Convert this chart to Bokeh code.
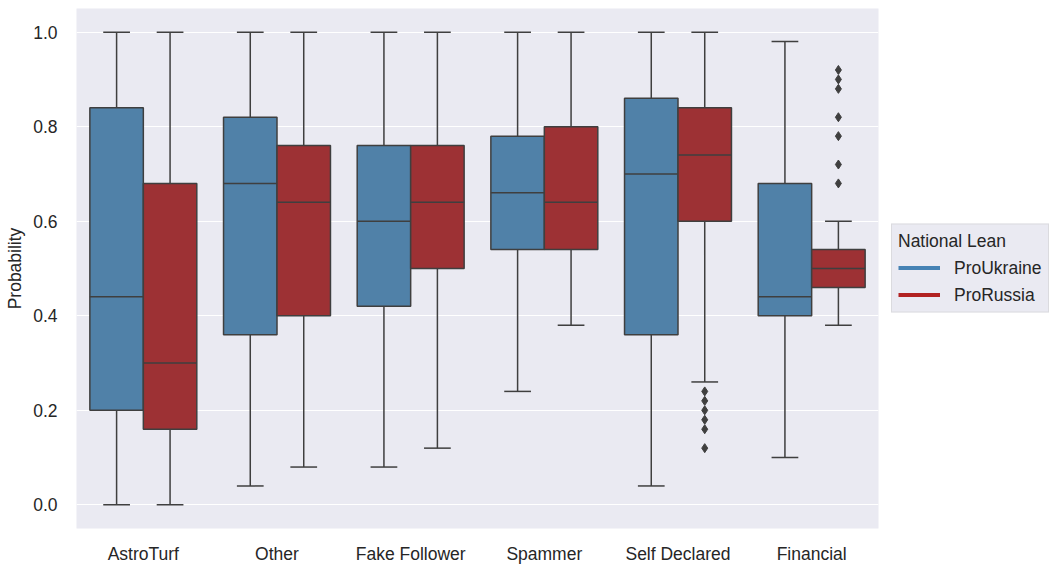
from bokeh.plotting import figure
from bokeh.models import FixedTicker, Legend, LegendItem, Range1d
from bokeh.embed import file_html
from bokeh.resources import INLINE

categories = ["AstroTurf", "Other", "Fake Follower", "Spammer", "Self Declared", "Financial"]
groups = ["ProUkraine", "ProRussia"]

# five-number summaries per category: lower whisker, q1, median, q3, upper whisker
ukr_low = [0.00, 0.04, 0.08, 0.24, 0.04, 0.10]
ukr_q1 = [0.20, 0.36, 0.42, 0.54, 0.36, 0.40]
ukr_med = [0.44, 0.68, 0.60, 0.66, 0.70, 0.44]
ukr_q3 = [0.84, 0.82, 0.76, 0.78, 0.86, 0.68]
ukr_high = [1.00, 1.00, 1.00, 1.00, 1.00, 0.98]

rus_low = [0.00, 0.08, 0.12, 0.38, 0.26, 0.38]
rus_q1 = [0.16, 0.40, 0.50, 0.54, 0.60, 0.46]
rus_med = [0.30, 0.64, 0.64, 0.64, 0.74, 0.50]
rus_q3 = [0.68, 0.76, 0.76, 0.80, 0.84, 0.54]
rus_high = [1.00, 1.00, 1.00, 1.00, 1.00, 0.60]

rus_outlier_cat = ["Self Declared"] * 6 + ["Financial"] * 7
rus_outlier_val = [0.24, 0.22, 0.20, 0.18, 0.16, 0.12,
                   0.92, 0.90, 0.88, 0.82, 0.78, 0.72, 0.68]

box_fill = ["#5081a8", "#9d3134"]
legend_color = ["#4682b4", "#b22222"]
edge = "#3f3f3f"
bg = "#eaeaf2"
text_color = "#262626"
font = "Liberation Sans"

p = figure(width=1055, height=565, frame_width=802, frame_height=520,
           output_backend="svg", toolbar_location=None,
           x_range=Range1d(-0.5, 5.5), y_range=Range1d(-0.05, 1.05),
           min_border_left=76, min_border_right=0, min_border_top=8,
           min_border_bottom=37)
p.background_fill_color = bg
p.border_fill_color = "white"
p.outline_line_color = None

box_w = 0.4
cap_w = 0.2
offsets = [-0.2, 0.2]
stats = [
    (ukr_low, ukr_q1, ukr_med, ukr_q3, ukr_high),
    (rus_low, rus_q1, rus_med, rus_q3, rus_high),
]

for g, (lo, q1, med, q3, hi) in enumerate(stats):
    xs = [i + offsets[g] for i in range(len(categories))]
    # whiskers
    p.segment(x0=xs, y0=lo, x1=xs, y1=q1, line_color=edge, line_width=1.5)
    p.segment(x0=xs, y0=q3, x1=xs, y1=hi, line_color=edge, line_width=1.5)
    # caps
    p.segment(x0=[x - cap_w / 2 for x in xs], y0=lo, x1=[x + cap_w / 2 for x in xs], y1=lo,
              line_color=edge, line_width=1.5)
    p.segment(x0=[x - cap_w / 2 for x in xs], y0=hi, x1=[x + cap_w / 2 for x in xs], y1=hi,
              line_color=edge, line_width=1.5)
    # boxes
    p.vbar(x=xs, width=box_w, bottom=q1, top=q3, fill_color=box_fill[g],
           line_color=edge, line_width=1.5)
    # medians
    p.segment(x0=[x - box_w / 2 for x in xs], y0=med, x1=[x + box_w / 2 for x in xs], y1=med,
              line_color=edge, line_width=1.5)

# outliers of the ProRussia group
ox = [categories.index(c) + offsets[1] for c in rus_outlier_cat]
p.scatter(x=ox, y=rus_outlier_val, marker="diamond", size=9,
          fill_color=edge, line_color=edge)

# axes
p.xaxis.ticker = FixedTicker(ticks=list(range(len(categories))))
p.xaxis.major_label_overrides = {i: c for i, c in enumerate(categories)}
p.yaxis.ticker = FixedTicker(ticks=[0.0, 0.2, 0.4, 0.6, 0.8, 1.0])
p.yaxis.major_label_overrides = {0.0: "0.0", 0.2: "0.2", 0.4: "0.4", 0.6: "0.6",
                                 0.8: "0.8", 1.0: "1.0"}
p.yaxis.axis_label = "Probability"
for ax in (p.xaxis[0], p.yaxis[0]):
    ax.axis_line_color = None
    ax.major_tick_line_color = None
    ax.minor_tick_line_color = None
    ax.major_tick_out = 0
    ax.major_tick_in = 0
    ax.minor_tick_out = 0
    ax.minor_tick_in = 0
    ax.major_label_text_font = font
    ax.major_label_text_font_size = "17.5px"
    ax.major_label_text_color = text_color
    ax.axis_label_text_font = font
    ax.axis_label_text_font_size = "17.5px"
    ax.axis_label_text_font_style = "normal"
    ax.axis_label_text_color = text_color
p.xaxis.major_label_standoff = 15
p.yaxis.major_label_standoff = 19
p.yaxis.axis_label_standoff = 5

p.xgrid.grid_line_color = None
p.ygrid.grid_line_color = "white"
p.ygrid.grid_line_width = 1.2

# legend with line swatches, placed to the right of the plot frame
leg_renderers = [p.line(x=[0, 0], y=[-1, -1], line_color=c, line_width=4) for c in legend_color]
legend = Legend(
    items=[LegendItem(label=g, renderers=[r]) for g, r in zip(groups, leg_renderers)],
    location="center_left",
    title="National Lean",
    title_text_font=font,
    title_text_font_size="17.5px",
    title_text_font_style="normal",
    title_text_color=text_color,
    title_standoff=5,
    label_text_font=font,
    label_text_font_size="17.5px",
    label_text_color=text_color,
    glyph_width=42,
    glyph_height=22,
    label_standoff=14,
    spacing=5,
    padding=6,
    margin=13,
    background_fill_color=bg,
    background_fill_alpha=1.0,
    border_line_color="#cccccc",
    border_line_width=1,
)
p.add_layout(legend, "right")

open("out.html", "w").write(file_html(p, INLINE))
